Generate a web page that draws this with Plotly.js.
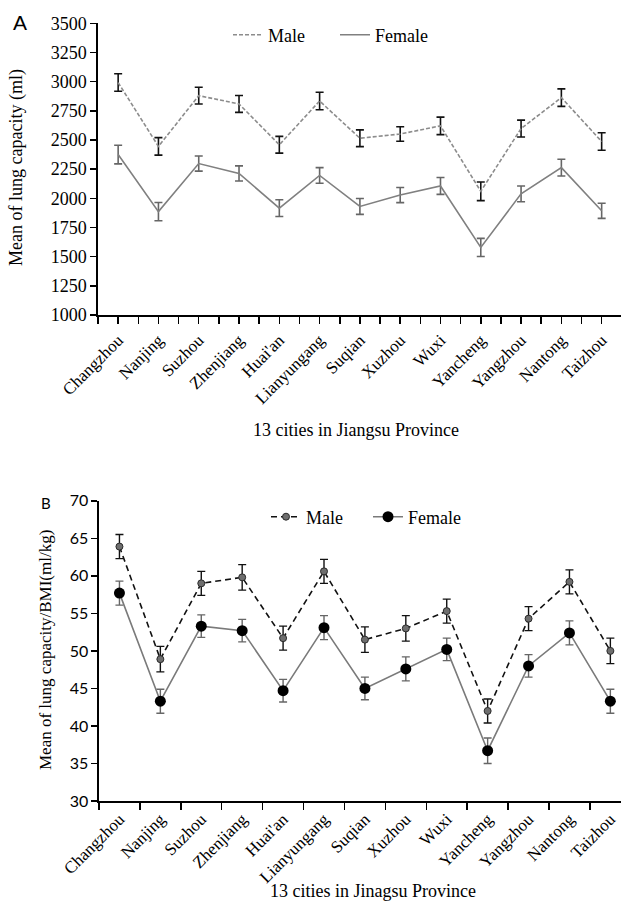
<!DOCTYPE html>
<html><head><meta charset="utf-8">
<script src="https://cdn.plot.ly/plotly-3.0.1.min.js"></script>
<style>html,body{margin:0;padding:0;background:#fff}#chart{width:621px;height:903px}</style>
</head><body><div id="chart"></div>
<script>
const cities = ["Changzhou","Nanjing","Suzhou","Zhenjiang","Huai'an","Lianyungang","Suqian","Xuzhou","Wuxi","Yancheng","Yangzhou","Nantong","Taizhou"];
// Panel A: mean lung capacity (ml)
const lungMale      = [2992, 2445, 2880, 2809, 2459, 2834, 2515, 2551, 2621, 2060, 2598, 2863, 2487];
const lungMaleErr   = [75, 75, 72, 72, 72, 75, 72, 62, 75, 80, 72, 75, 75];
const lungFemale    = [2375, 1886, 2298, 2213, 1916, 2196, 1930, 2028, 2106, 1579, 2038, 2263, 1893];
const lungFemaleErr = [80, 78, 65, 65, 72, 67, 68, 65, 72, 78, 68, 72, 65];
// Panel B: mean lung capacity / BMI (ml/kg)
const bmiMale      = [63.9, 48.9, 59.0, 59.8, 51.7, 60.6, 51.5, 53.0, 55.3, 42.0, 54.3, 59.2, 50.0];
const bmiMaleErr   = [1.6, 1.7, 1.6, 1.7, 1.6, 1.6, 1.7, 1.7, 1.6, 1.6, 1.6, 1.6, 1.7];
const bmiFemale    = [57.7, 43.3, 53.3, 52.7, 44.7, 53.1, 45.0, 47.6, 50.2, 36.7, 48.0, 52.4, 43.3];
const bmiFemaleErr = [1.6, 1.6, 1.5, 1.5, 1.5, 1.6, 1.5, 1.6, 1.5, 1.7, 1.5, 1.6, 1.6];

const idx = cities.map((c, i) => i);
const serif = "Liberation Serif";
const sans = "Lato";

const traces = [
  {x: idx, y: lungMale, name: "Male", type: "scatter", mode: "lines", xaxis: "x", yaxis: "y", legend: "legend",
   line: {color: "#8c8c8c", width: 1.6, dash: "4px,2px"},
   error_y: {type: "data", array: lungMaleErr, visible: true, color: "#111", thickness: 1.6, width: 4}},
  {x: idx, y: lungFemale, name: "Female", type: "scatter", mode: "lines", xaxis: "x", yaxis: "y", legend: "legend",
   line: {color: "#808080", width: 1.6},
   error_y: {type: "data", array: lungFemaleErr, visible: true, color: "#666", thickness: 1.6, width: 4}},
  {x: idx, y: bmiMale, name: "Male", type: "scatter", mode: "lines+markers", xaxis: "x2", yaxis: "y2", legend: "legend2",
   line: {color: "#111", width: 1.6, dash: "6px,4px"},
   marker: {color: "#6e6e6e", size: 7, line: {color: "#2a2a2a", width: 1}},
   error_y: {type: "data", array: bmiMaleErr, visible: true, color: "#111", thickness: 1.4, width: 4}},
  {x: idx, y: bmiFemale, name: "Female", type: "scatter", mode: "lines+markers", xaxis: "x2", yaxis: "y2", legend: "legend2",
   line: {color: "#7a7a7a", width: 1.6},
   marker: {color: "#000", size: 11},
   error_y: {type: "data", array: bmiFemaleErr, visible: true, color: "#666", thickness: 1.4, width: 4}}
];

const xCommon = {
  tickmode: "array", tickvals: idx, ticktext: cities, tickangle: -45,
  showline: true, linecolor: "#000", linewidth: 1.6, showgrid: false, zeroline: false,
  automargin: false, fixedrange: true,
  tickfont: {family: serif, size: 17, color: "#000"}
};

const layout = {
  width: 621, height: 903,
  margin: {l: 0, r: 0, t: 0, b: 0},
  paper_bgcolor: "#fff", plot_bgcolor: "#fff",
  showlegend: true,
  xaxis: Object.assign({}, xCommon, {
    domain: [98/621, 1], range: [-0.5, 12.48], anchor: "y",
    ticks: "outside", ticklen: 7, tickwidth: 1.5, tickcolor: "#000",
    minor: {tick0: -0.5, dtick: 1, ticks: "outside", ticklen: 7, tickwidth: 1.5, tickcolor: "#000"}
  }),
  yaxis: {
    domain: [1 - 315/903, 1 - 23.3/903], range: [1000, 3500], tickvals: [1000,1250,1500,1750,2000,2250,2500,2750,3000,3250,3500],
    anchor: "x", showline: true, linecolor: "#000", linewidth: 1.6, showgrid: false, zeroline: false,
    ticks: "outside", ticklen: 6, tickwidth: 1.5, tickcolor: "#000", automargin: false,
    tickfont: {family: serif, size: 18, color: "#000"}
  },
  xaxis2: Object.assign({}, xCommon, {
    domain: [99/621, 1], range: [-0.5, 12.26], anchor: "y2", ticks: "",
    minor: {tick0: -0.5, dtick: 1, ticks: "outside", ticklen: 7, tickwidth: 1.5, tickcolor: "#000"}
  }),
  yaxis2: {
    domain: [1 - 801/903, 1 - 500.8/903], range: [30, 70], dtick: 5,
    anchor: "x2", showline: true, linecolor: "#000", linewidth: 1.6, showgrid: false, zeroline: false,
    ticks: "outside", ticklen: 6, tickwidth: 1.5, tickcolor: "#000", automargin: false,
    tickfont: {family: sans, size: 16, color: "#000"}
  },
  legend: {orientation: "h", x: 228/621, xanchor: "left", y: 1 - 35/903, yanchor: "middle",
    font: {family: serif, size: 18, color: "#000"}, bgcolor: "rgba(0,0,0,0)", itemwidth: 30,
    entrywidth: 62, entrywidthmode: "pixels"},
  legend2: {orientation: "h", x: 266/621, xanchor: "left", y: 1 - 517/903, yanchor: "middle",
    font: {family: serif, size: 18, color: "#000"}, bgcolor: "rgba(0,0,0,0)", itemwidth: 30,
    entrywidth: 57, entrywidthmode: "pixels"},
  annotations: [
    {text: "A", x: 20/621, y: 1 - 22/903, xref: "paper", yref: "paper", showarrow: false, xanchor: "center", yanchor: "middle",
     font: {family: "Liberation Sans", size: 21, color: "#000"}},
    {text: "B", x: 46/621, y: 1 - 503/903, xref: "paper", yref: "paper", showarrow: false, xanchor: "center", yanchor: "middle",
     font: {family: sans, size: 15, color: "#000"}},
    {text: "Mean of lung capacity (ml)", x: 16/621, y: 1 - 168/903, xref: "paper", yref: "paper", showarrow: false, textangle: -90,
     xanchor: "center", yanchor: "middle", font: {family: serif, size: 18, color: "#000"}},
    {text: "Mean of lung capacity/BMI(ml/kg)", x: 45/621, y: 1 - 650/903, xref: "paper", yref: "paper", showarrow: false, textangle: -90,
     xanchor: "center", yanchor: "middle", font: {family: serif, size: 17, color: "#000"}},
    {text: "13 cities in Jiangsu Province", x: 356/621, y: 1 - 430/903, xref: "paper", yref: "paper", showarrow: false,
     xanchor: "center", yanchor: "middle", font: {family: serif, size: 18, color: "#000"}},
    {text: "13 cities in Jinagsu Province", x: 373/621, y: 1 - 891/903, xref: "paper", yref: "paper", showarrow: false,
     xanchor: "center", yanchor: "middle", font: {family: serif, size: 18, color: "#000"}}
  ]
};

Plotly.newPlot("chart", traces, layout, {staticPlot: true, displayModeBar: false});
</script>
</body></html>
